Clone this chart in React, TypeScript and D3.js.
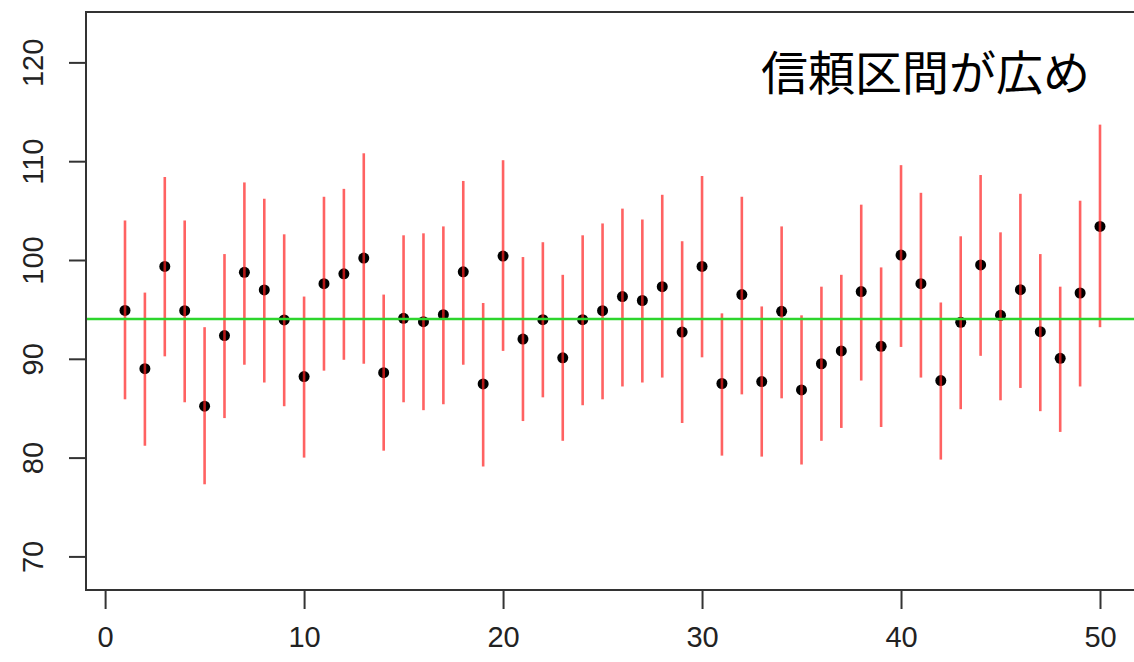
import { useEffect, useRef } from 'react';
import * as d3 from 'd3';

const size = { width: 1134, height: 662 };

// values
const index = d3.range(1, 51);
const estimate = [
  94.9, 89.0, 99.35, 94.87, 85.2, 92.35, 98.75, 96.97, 93.93, 88.2,
  97.6, 98.6, 100.2, 88.6, 94.1, 93.76, 94.47, 98.8, 87.46, 100.4,
  92.0, 93.96, 90.1, 93.96, 94.87, 96.3, 95.9, 97.3, 92.7, 99.35,
  87.5, 96.5, 87.7, 94.8, 86.85, 89.5, 90.8, 96.8, 91.26, 100.5,
  97.6, 87.8, 93.7, 99.5, 94.4, 97.0, 92.75, 90.05, 96.66, 103.4,
];
const lower = [
  85.9, 81.2, 90.25, 85.6, 77.3, 84.0, 89.4, 87.6, 85.2, 80.0,
  88.8, 89.9, 89.5, 80.7, 85.6, 84.8, 85.4, 89.4, 79.1, 90.8,
  83.7, 86.1, 81.7, 85.3, 85.9, 87.2, 87.6, 88.1, 83.5, 90.15,
  80.2, 86.4, 80.1, 86.0, 79.3, 81.7, 83.0, 87.8, 83.1, 91.2,
  88.1, 79.8, 84.9, 90.3, 85.8, 87.05, 84.7, 82.6, 87.2, 93.2,
];
const upper = [
  104.0, 96.7, 108.4, 104.0, 93.2, 100.6, 107.85, 106.2, 102.6, 96.3,
  106.4, 107.2, 110.8, 96.5, 102.5, 102.7, 103.4, 108.0, 95.65, 110.1,
  100.3, 101.8, 98.5, 102.5, 103.7, 105.2, 104.1, 106.6, 101.9, 108.5,
  94.6, 106.4, 95.3, 103.4, 94.4, 97.3, 98.5, 105.6, 99.25, 109.6,
  106.8, 95.7, 102.4, 108.6, 102.8, 106.7, 100.6, 97.3, 106.0, 113.7,
];
const trueMean = 94.03;
const xTicks = [0, 10, 20, 30, 40, 50];
const yTicks = [70, 80, 90, 100, 110, 120];
const label = '信頼区間が広め';

const plot = { left: 86, right: 1139, top: 12, bottom: 590 };

const App = () => {
  const axesRef = useRef<SVGGElement>(null);

  const xScale = d3.scaleLinear().domain([-0.96, 51.96]).range([plot.left, plot.right]);
  const yScale = d3.scaleLinear().domain([66.6, 125.1]).range([plot.bottom, plot.top]);

  useEffect(() => {
    const g = d3.select(axesRef.current);
    g.selectAll('*').remove();

    const xAxis = d3.axisBottom(xScale).tickValues(xTicks).tickSize(19).tickPadding(17).tickFormat(d3.format('d'));
    g.append('g')
      .attr('transform', `translate(0,${plot.bottom})`)
      .call(xAxis)
      .call(s => s.select('.domain').remove())
      .call(s => s.selectAll('.tick line').attr('stroke', '#333').attr('stroke-width', 2))
      .call(s =>
        s.selectAll('.tick text')
          .attr('fill', '#222')
          .attr('font-size', 29)
          .attr('font-family', 'Liberation Sans, Arial, sans-serif'),
      );

    const yAxis = d3.axisLeft(yScale).tickValues(yTicks).tickSize(17).tickFormat(d3.format('d'));
    g.append('g')
      .attr('transform', `translate(${plot.left},0)`)
      .call(yAxis)
      .call(s => s.select('.domain').remove())
      .call(s => s.selectAll('.tick line').attr('stroke', '#333').attr('stroke-width', 2))
      .call(s =>
        s.selectAll('.tick text')
          .attr('fill', '#222')
          .attr('font-size', 29)
          .attr('font-family', 'Liberation Sans, Arial, sans-serif')
          .attr('text-anchor', 'middle')
          .attr('x', null)
          .attr('dy', null)
          .attr('transform', `translate(${43 - plot.left},0) rotate(-90)`),
      );
  }, []);

  return (
    <div style={{ position: 'fixed', left: 0, top: 0 }}>
      <svg width={size.width} height={size.height} style={{ display: 'block', background: '#fff' }}>
        {/* points */}
        {index.map((d, i) => (
          <circle key={`p${d}`} cx={xScale(d)} cy={yScale(estimate[i])} r={5.5} fill="#000" />
        ))}
        {/* confidence intervals */}
        {index.map((d, i) => (
          <line
            key={`ci${d}`}
            x1={xScale(d)}
            x2={xScale(d)}
            y1={yScale(lower[i])}
            y2={yScale(upper[i])}
            stroke="#ff2020"
            strokeOpacity={0.7}
            strokeWidth={2.6}
          />
        ))}
        {/* true mean */}
        <line
          x1={plot.left}
          x2={plot.right}
          y1={yScale(trueMean)}
          y2={yScale(trueMean)}
          stroke="#2dd52d"
          strokeWidth={2.4}
        />
        {/* box */}
        <rect
          x={plot.left}
          y={plot.top}
          width={plot.right - plot.left}
          height={plot.bottom - plot.top}
          fill="none"
          stroke="#333"
          strokeWidth={2}
        />
        <g ref={axesRef} />
        <text
          x={761}
          y={90}
          fontSize={47}
          fill="#000"
          fontFamily="Noto Sans CJK JP, sans-serif"
        >
          {label}
        </text>
      </svg>
    </div>
  );
};

export default App;
